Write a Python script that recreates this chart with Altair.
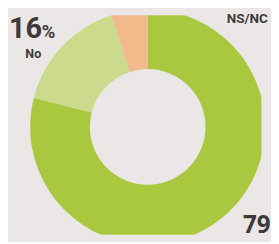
import altair as alt
import pandas as pd

categories = ["Sí", "No", "NS/NC"]
values = [79, 16, 5]
colors = ["#aac83f", "#cbda8c", "#f2b98b"]
order = [0, 1, 2]

df = pd.DataFrame({"cat": categories, "val": values, "ord": order})

W, H = 263, 228
cx, cy = 145, 116

arc = alt.Chart(df).mark_arc(outerRadius=122, innerRadius=60, stroke=None, clip=True).encode(
    theta=alt.Theta("val:Q", stack=True),
    order=alt.Order("ord:Q"),
    color=alt.Color("cat:N", scale=alt.Scale(domain=categories, range=colors), legend=None),
    x=alt.value(cx),
    y=alt.value(cy),
)

labels = pd.DataFrame({
    "t": ["16", "%", "No", "NS/NC", "79"],
    "x": [1, 35, 18, 227, 244],
    "y": [24, 24, 44, 8, 226],
    "s": [30, 19, 13, 14, 25],
    "f": ["Roboto", "Roboto", "Roboto", "Roboto", "Open Sans"],
})

def txt(i):
    r = labels.iloc[i]
    return alt.Chart(labels.iloc[[i]]).mark_text(
        align="left", baseline="alphabetic", font=str(r["f"]), fontWeight="bold",
        fontSize=float(r["s"]), color="#3e3a3a"
    ).encode(text="t:N", x=alt.value(float(r["x"])), y=alt.value(float(r["y"])))

chart = alt.layer(arc, *[txt(i) for i in range(len(labels))]).properties(
    width=W, height=H, padding=0, background="#ebe7e6"
).configure_view(stroke=None)

chart.save("out.html", embed_options={"renderer": "svg", "actions": False})
